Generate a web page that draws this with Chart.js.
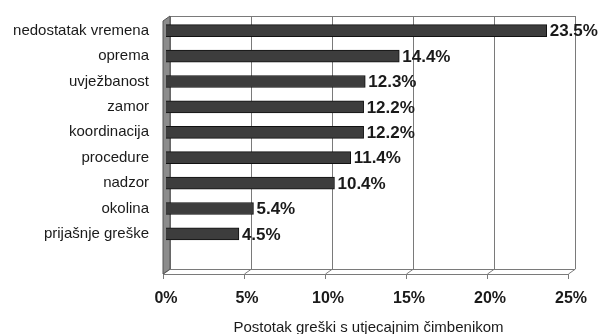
<!DOCTYPE html>
<html>
<head>
<meta charset="utf-8">
<script src="https://cdn.jsdelivr.net/npm/chart.js@4.4.1/dist/chart.umd.min.js"></script>
<style>
  html, body { margin: 0; padding: 0; background: #fff; }
  #wrap { width: 600px; height: 334px; }
</style>
</head>
<body>
<div id="wrap"><canvas id="chart"></canvas></div>
<script>
// data
const categories = [
  "nedostatak vremena", "oprema", "uvježbanost", "zamor", "koordinacija",
  "procedure", "nadzor", "okolina", "prijašnje greške", ""
];
const percentages = [23.5, 14.4, 12.3, 12.2, 12.2, 11.4, 10.4, 5.4, 4.5, null];
const tickValues = [0, 5, 10, 15, 20, 25];
const axisTitle = "Postotak greški s utjecajnim čimbenikom";

const FONT = "'Liberation Sans', Arial, sans-serif";

// fake 3D box: back wall, floor and left wall
const box3d = {
  id: "box3d",
  beforeDatasetsDraw(chart) {
    const { ctx, chartArea: a, scales: { x } } = chart;
    const L = a.left, R = a.right, T = a.top, B = a.bottom;
    const bx = 4, by = -2, fx = -3, fy = 3;
    ctx.save();
    ctx.lineWidth = 1;
    ctx.strokeStyle = "#7a7a7a";

    // back wall grid lines
    tickValues.forEach(v => {
      const px = Math.round(x.getPixelForValue(v)) + 0.5;
      ctx.beginPath();
      ctx.moveTo(px + bx, T + by);
      ctx.lineTo(px + bx, B - 3);
      ctx.lineTo(px + fx, B + 2);
      ctx.lineTo(px + fx, B + 7);
      ctx.stroke();
    });
    // top edge of back wall
    ctx.beginPath();
    ctx.moveTo(L + bx, T + by + 0.5);
    ctx.lineTo(R + bx + 0.5, T + by + 0.5);
    ctx.stroke();
    // floor
    ctx.beginPath();
    ctx.moveTo(L + bx, B - 2.5);
    ctx.lineTo(R + bx, B - 2.5);
    ctx.moveTo(L + fx, B + 2.5);
    ctx.lineTo(R + fx, B + 2.5);
    ctx.stroke();

    // left wall
    ctx.beginPath();
    ctx.moveTo(L + fx, T + fy);
    ctx.lineTo(L + bx, T + by);
    ctx.lineTo(L + bx, B - 3);
    ctx.lineTo(L + fx, B + 2);
    ctx.closePath();
    ctx.fillStyle = "#8c8c8c";
    ctx.fill();
    ctx.strokeStyle = "#555";
    ctx.stroke();
    ctx.restore();
  }
};

// value labels at the end of each bar
const valueLabels = {
  id: "valueLabels",
  afterDatasetsDraw(chart) {
    const { ctx } = chart;
    const meta = chart.getDatasetMeta(0);
    ctx.save();
    ctx.font = "bold 17px " + FONT;
    ctx.fillStyle = "#1a1a1a";
    ctx.textBaseline = "middle";
    ctx.textAlign = "left";
    meta.data.forEach((bar, i) => {
      const v = percentages[i];
      if (v == null) return;
      ctx.fillText(v.toFixed(1) + "%", bar.x + 3, bar.y + 1);
    });
    ctx.restore();
  }
};

new Chart(document.getElementById("chart"), {
  type: "bar",
  data: {
    labels: categories,
    datasets: [{
      data: percentages,
      backgroundColor: "#3d3d3d",
      borderColor: "#111",
      borderWidth: 1,
      borderSkipped: "start",
      barThickness: 12
    }]
  },
  options: {
    indexAxis: "y",
    responsive: true,
    maintainAspectRatio: false,
    animation: false,
    layout: { padding: { top: 3, right: 29, bottom: 0, left: 0 } },
    plugins: {
      legend: { display: false },
      tooltip: { enabled: false }
    },
    scales: {
      x: {
        min: 0,
        max: 25,
        afterBuildTicks: s => { s.ticks = tickValues.map(v => ({ value: v })); },
        afterFit: s => { s.height = 62; },
        grid: { display: false },
        border: { display: false },
        ticks: {
          padding: 9,
          color: "#1a1a1a",
          font: { family: FONT, size: 16, weight: "bold" },
          callback: v => v + "%"
        },
        title: {
          display: true,
          text: axisTitle,
          color: "#1a1a1a",
          padding: { top: 0, bottom: -1 },
          font: { family: FONT, size: 15, lineHeight: 1 }
        }
      },
      y: {
        afterFit: s => { s.width = 166; },
        grid: { display: false },
        border: { display: false },
        ticks: {
          padding: 9,
          color: "#1a1a1a",
          font: { family: FONT, size: 15 }
        }
      }
    }
  },
  plugins: [box3d, valueLabels]
});
</script>
</body>
</html>
